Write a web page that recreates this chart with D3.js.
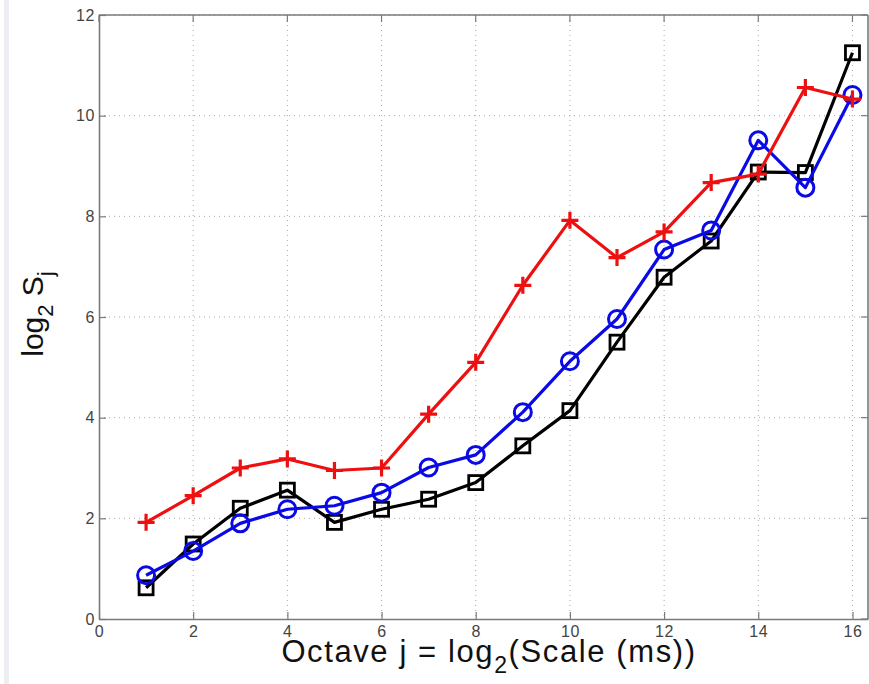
<!DOCTYPE html>
<html>
<head>
<meta charset="utf-8">
<script src="https://cdn.jsdelivr.net/npm/d3@7"></script>
<style>
  html, body { margin: 0; padding: 0; background: #fff; }
  svg { display: block; }
  text { font-family: "Liberation Sans", Arial, sans-serif; }
</style>
</head>
<body>
<svg id="chart" width="869" height="684"></svg>
<script>
// Octave index j
const octaves = [1, 2, 3, 4, 5, 6, 7, 8, 9, 10, 11, 12, 13, 14, 15, 16];

// log2 S_j for the three series
const seriesPlus   = [1.92, 2.45, 3.00, 3.18, 2.95, 3.00, 4.07, 5.10, 6.63, 7.92, 7.18, 7.69, 8.67, 8.84, 10.56, 10.33];
const seriesCircle = [0.87, 1.35, 1.90, 2.18, 2.25, 2.51, 3.01, 3.26, 4.11, 5.12, 5.96, 7.34, 7.72, 9.51, 8.57, 10.41];
const seriesSquare = [0.62, 1.49, 2.20, 2.56, 1.92, 2.18, 2.38, 2.71, 3.44, 4.14, 5.50, 6.79, 7.51, 8.88, 8.87, 11.25];

const xTicks = [0, 2, 4, 6, 8, 10, 12, 14, 16];
const yTicks = [0, 2, 4, 6, 8, 10, 12];

const svg = d3.select("#chart");
const plotLeft = 99, plotRight = 868, plotTop = 15, plotBottom = 619;

const x = d3.scaleLinear().domain([0, 16.33]).range([plotLeft, plotRight]);
const y = d3.scaleLinear().domain([0, 12]).range([plotBottom, plotTop]);

// faint strip along the left edge
svg.append("rect").attr("x", 4).attr("y", 0).attr("width", 5).attr("height", 684)
  .attr("fill", "#eceef2");

// dotted grid
const grid = svg.append("g");
grid.selectAll(".gx").data(xTicks.filter(d => d > 0)).join("line")
  .attr("x1", d => x(d)).attr("x2", d => x(d))
  .attr("y1", plotTop).attr("y2", plotBottom)
  .attr("stroke", "#a8a8a8").attr("stroke-width", 1).attr("stroke-dasharray", "1,4");
grid.selectAll(".gy").data(yTicks.filter(d => d > 0)).join("line")
  .attr("x1", plotLeft).attr("x2", plotRight)
  .attr("y1", d => y(d)).attr("y2", d => y(d))
  .attr("stroke", "#a8a8a8").attr("stroke-width", 1).attr("stroke-dasharray", "1,4");

// axes (inward ticks)
const axisColor = "#7a7a7a";
const xAxis = svg.append("g").attr("transform", `translate(0,${plotBottom})`)
  .call(d3.axisBottom(x).tickValues(xTicks).tickSizeInner(-7).tickSizeOuter(0).tickPadding(7));
const yAxis = svg.append("g").attr("transform", `translate(${plotLeft},0)`)
  .call(d3.axisLeft(y).tickValues(yTicks).tickSizeInner(-7).tickSizeOuter(0).tickPadding(4));
[xAxis, yAxis].forEach(g => {
  g.attr("font-size", 16).attr("font-family", "'Liberation Sans', Arial, sans-serif");
  g.select(".domain").attr("stroke", axisColor).attr("stroke-width", 1.6);
  g.selectAll(".tick line").attr("stroke", axisColor).attr("stroke-width", 1.2);
  g.selectAll(".tick text").attr("fill", "#444").style("letter-spacing", "0.6px");
});
// top and right borders with their inward ticks
svg.append("line").attr("x1", plotLeft).attr("x2", plotRight).attr("y1", plotTop).attr("y2", plotTop)
  .attr("stroke", axisColor).attr("stroke-width", 1.6);
svg.append("line").attr("x1", plotRight).attr("x2", plotRight).attr("y1", plotTop).attr("y2", plotBottom)
  .attr("stroke", axisColor).attr("stroke-width", 1.6);
svg.selectAll(".tt").data(xTicks).join("line")
  .attr("x1", d => x(d)).attr("x2", d => x(d)).attr("y1", plotTop).attr("y2", plotTop + 7)
  .attr("stroke", axisColor).attr("stroke-width", 1.2);
svg.selectAll(".tr").data(yTicks).join("line")
  .attr("x1", plotRight - 7).attr("x2", plotRight).attr("y1", d => y(d)).attr("y2", d => y(d))
  .attr("stroke", axisColor).attr("stroke-width", 1.2);

const line = d3.line().x((d, i) => x(octaves[i])).y(d => y(d));

function drawSeries(values, color, marker) {
  const g = svg.append("g");
  g.append("path").datum(values).attr("d", line)
    .attr("fill", "none").attr("stroke", color).attr("stroke-width", 3.2)
    .attr("stroke-linejoin", "round");
  const pts = g.selectAll(".m").data(values).join("g")
    .attr("transform", (d, i) => `translate(${x(octaves[i])},${y(d)})`);
  if (marker === "square") {
    pts.append("rect").attr("x", -7).attr("y", -7).attr("width", 14).attr("height", 14)
      .attr("fill", "none").attr("stroke", color).attr("stroke-width", 2.8);
  } else if (marker === "circle") {
    pts.append("circle").attr("r", 8.5).attr("fill", "none")
      .attr("stroke", color).attr("stroke-width", 3);
  } else {
    pts.append("path").attr("d", "M-8.5,0H8.5M0,-8.5V8.5")
      .attr("stroke", color).attr("stroke-width", 3.2);
  }
}

drawSeries(seriesSquare, "#000000", "square");
drawSeries(seriesCircle, "#0a0ae6", "circle");
drawSeries(seriesPlus, "#ee1010", "plus");

// axis titles
const xl = svg.append("text").attr("x", 489).attr("y", 662).attr("text-anchor", "middle")
  .attr("fill", "#111").style("font-size", "31px").style("letter-spacing", "1.6px");
xl.append("tspan").text("Octave j = log");
xl.append("tspan").attr("dy", 11).style("font-size", "23px").text("2");
xl.append("tspan").attr("dy", -11).text("(Scale (ms))");

const yl = svg.append("text").attr("transform", "translate(43,314) rotate(-90)")
  .attr("text-anchor", "middle").attr("fill", "#111").style("font-size", "30px");
yl.append("tspan").text("log");
yl.append("tspan").attr("dy", 10).style("font-size", "22px").text("2");
yl.append("tspan").attr("dy", -10).text(" S");
yl.append("tspan").attr("dy", 10).style("font-size", "22px").text("j");
</script>
</body>
</html>
